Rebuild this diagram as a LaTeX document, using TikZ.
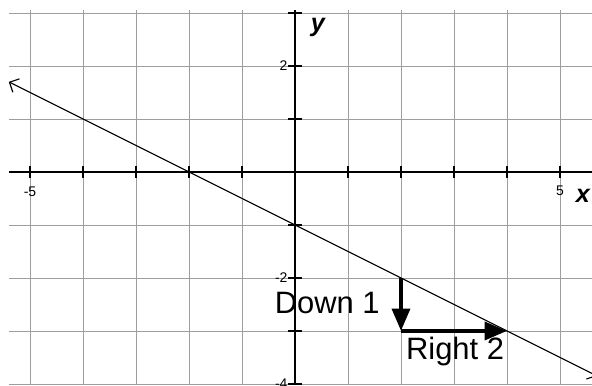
\documentclass[tikz,border=0pt]{standalone}
\usepackage{fontspec}
\setmainfont{Liberation Sans}
\usepackage{tikz}
\usetikzlibrary{arrows.meta,positioning,calc}

\begin{document}
\begin{tikzpicture}[
    x=1cm, y=1cm,
    gridline/.style={draw=black!38, line width=0.5pt},
    axis/.style={draw=black, line width=0.8pt},
    graphline/.style={draw=black, line width=0.6pt, {Straight Barb[length=4pt,width=8pt]}-{Straight Barb[length=4pt,width=8pt]}},
    movearrow/.style={draw=black, line width=2.3pt, -{Triangle[length=12pt,width=9.5pt]}},
    ticklabel/.style={font=\fontsize{7.5}{9}\selectfont, inner sep=1pt},
    axislabel/.style={font=\fontsize{13.5}{16}\selectfont\bfseries\itshape},
    movelabel/.style={font=\fontsize{16.6}{19}\selectfont, inner sep=1pt}
]
\useasboundingbox (-5.566,-4.02) rectangle (5.604,3.245);

% grid
\foreach \gx in {-5,...,5}
    \draw [gridline] (\gx,-4.02) -- (\gx,3.05);
\foreach \gy in {-4,...,3}
    \draw [gridline] (-5.4,\gy) -- (5.604,\gy);

% axes and ticks
\draw [axis] (-5.4,0) -- (5.604,0);
\draw [axis] (0,-4.02) -- (0,3.05);
\foreach \tx in {-5,...,-1,1,2,...,5}
    \draw [axis] (\tx,-0.11) -- (\tx,0.11);
\foreach \ty in {-4,...,-1,1,2,3}
    \draw [axis] (-0.13,\ty) -- (0.13,\ty);

% tick labels
\node [ticklabel] (lxm5) at (-5,-0.38) {-5};
\node [ticklabel] (lx5) at (5,-0.36) {5};
\node [ticklabel, anchor=east] (ly2) at (-0.1,2) {2};
\node [ticklabel, anchor=east] (lym2) at (-0.1,-2) {-2};
\node [ticklabel, anchor=east] (lym4) at (-0.1,-4) {-4};
\node [axislabel] (xlab) at (5.43,-0.45) {x};
\node [axislabel] (ylab) at (0.43,2.72) {y};

% the line y = -x/2 - 1
\coordinate (lstart) at (-5.4,1.7);
\coordinate (lend) at (5.7,-3.85);
\draw [graphline] (lstart) -- (lend);

% rise and run
\coordinate (pa) at (2,-2);
\coordinate (pb) at (2,-3);
\coordinate (pc) at (4,-3);
\draw [movearrow] (pa) -- (pb);
\draw [movearrow] (pb) -- (pc);
\node [movelabel] (down) at (0.61,-2.47) {Down 1};
\node [movelabel] (right) at (3.02,-3.38) {Right 2};
\end{tikzpicture}
\end{document}
